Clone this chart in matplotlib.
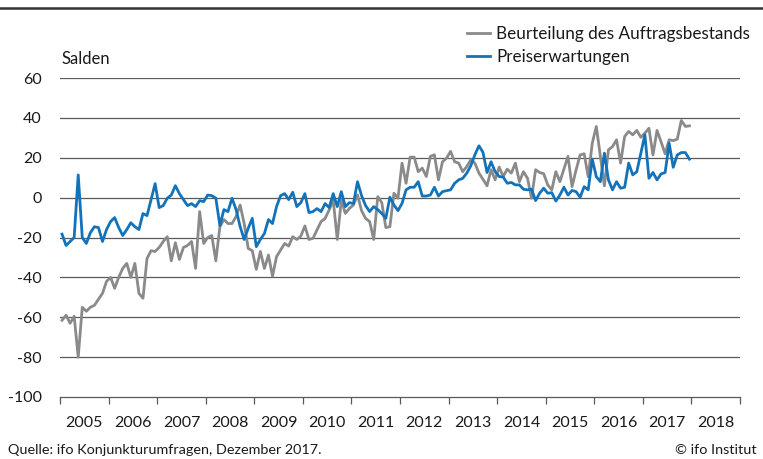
import matplotlib
matplotlib.use("Agg")
import matplotlib.pyplot as plt
from matplotlib.lines import Line2D
import numpy as np

plt.rcParams['font.family'] = ['Lato', 'DejaVu Sans']

start_year = 2005
year_labels = [str(y) for y in range(2005, 2019)]
y_ticks = [60, 40, 20, 0, -20, -40, -60, -80, -100]

series_names = ["Beurteilung des Auftragsbestands", "Preiserwartungen"]

# Monthly balances, Jan 2005 - Dec 2017
auftragsbestand = [
    -61.5, -59, -63, -59.5, -80, -55, -57, -55, -54, -51, -48, -42,
    -40, -45.5, -40, -35.5, -33, -40, -33, -48, -50.5, -30.5, -26.6, -27,
    -25, -22, -19.6, -31.7, -22.6, -31, -25, -24, -22, -35.5, -7, -23,
    -20, -19, -31.7, -14.6, -11, -13, -13, -9.5, -3.7, -13, -25.5, -26.6,
    -36, -27, -35.5, -28.8, -39.4, -29.6, -26.3, -23, -24.3, -19.6, -21, -19.3,
    -14.2, -21, -20.4, -16.2, -12, -10.4, -6.2, -1.2, -21, -1.2, -7.9, -5.4,
    -3.7, 1.3, -6.5, -10.4, -12, -21, 0.5, -2.5, -15, -14.6, 2.2, -0.3,
    17.3, 7.2, 20.3, 20.3, 13, 14.8, 10.6, 20.7, 21.5, 8.9, 18, 19.8,
    23.2, 18, 17.3, 13, 15.6, 19, 17.3, 12.3, 9.2, 5.9, 14, 8.9,
    15.3, 10.6, 14.3, 12.3, 17.3, 8, 13, 9.7, -0.3, 14, 12.6, 12,
    6.4, 3.9, 13, 8, 14.3, 20.7, 5.5, 13.9, 21.4, 22, 10.5, 27.3,
    35.7, 20.6, 5.9, 24, 25.6, 29, 17.3, 30.7, 33.2, 31.5, 33.7, 30.3,
    32.3, 34.8, 21.4, 33.7, 28, 22, 29, 28.6, 29.3, 38.7, 35.7, 36,
]

preiserwartungen = [
    -18.3, -24, -22, -20, 11.4, -20, -23, -17.6, -14.6, -15, -22, -16,
    -12, -10, -15, -19, -16, -12.6, -14.6, -16, -8, -9, -1, 7,
    -5, -4, -0.3, 1.3, 6, 2, -1, -4, -3, -4.5, -1.5, -2,
    1.3, 1, -0.3, -14, -6, -7, -0.3, -6, -14.5, -21, -15.4, -10.4,
    -24.6, -21, -18, -11, -13, -4.5, 1, 2, -1, 2.7, -4.5, -2.5,
    2, -7.5, -7, -5.5, -7, -3, -5, 2, -4.5, 3, -4.5, -2.5,
    -3, 8, 1, -4, -7, -4.5, -6, -8, -10.4, 0.2, -3.7, -6.5,
    -2.9, 3.9, 5.2, 5.2, 8, 0.8, 0.8, 1.3, 5.2, 0.8, 3, 3.5,
    3.9, 7.2, 8.9, 9.7, 12.3, 16, 21.5, 26, 22.7, 12.6, 18, 13,
    10.6, 10.3, 7.2, 7.6, 6.4, 6.4, 4.2, 3.9, 4.2, -1.5, 2.2, 4.7,
    2.2, 2.5, -1.7, 1.3, 5.2, 1.3, 3.6, 3, 0.2, 5.5, 3.9, 19.3,
    10.5, 8, 22.3, 8.9, 3.9, 8, 4.7, 5.2, 17.3, 11.4, 13, 22.3,
    31.5, 9.7, 12.6, 8.9, 11.9, 12.6, 27.3, 15.2, 21.4, 22.6, 22.6, 19.3,
]

source_text = "Quelle: ifo Konjunkturumfragen, Dezember 2017."
credit_text = "© ifo Institut"
ylabel_text = "Salden"

gray = "#8a8a8a"
blue = "#1273bb"
grid_col = "#5a5a5a"
text_col = "#1a1a1a"

n = len(auftragsbestand)
x = start_year + (np.arange(n) + 0.5) / 12.0

fig = plt.figure(figsize=(7.63, 4.59), dpi=100)
ax = fig.add_axes([60 / 763, 1 - 397 / 459, 680 / 763, 319 / 459])

for v in y_ticks[:-1]:
    ax.axhline(v, color=grid_col, lw=0.9, zorder=1)

l1, = ax.plot(x, auftragsbestand, color=gray, lw=2.0, zorder=3, solid_joinstyle='round')
l2, = ax.plot(x, preiserwartungen, color=blue, lw=2.0, zorder=4, solid_joinstyle='round')

ax.set_xlim(2005, 2019)
ax.set_ylim(-100, 60)

for s in ['top', 'right', 'left']:
    ax.spines[s].set_visible(False)
ax.spines['bottom'].set_color(grid_col)
ax.spines['bottom'].set_linewidth(0.9)

ax.set_yticks(y_ticks)
ax.set_yticklabels([str(v) for v in y_ticks])
ax.tick_params(axis='y', length=0, pad=13, labelsize=11.5, labelcolor=text_col)

ax.set_xticks(range(2005, 2020))
ax.set_xticklabels([])
ax.tick_params(axis='x', which='major', direction='out', length=5, width=0.9, color=grid_col)
ax.set_xticks([y + 0.5 for y in range(2005, 2019)], minor=True)
ax.set_xticklabels(year_labels, minor=True)
ax.tick_params(axis='x', which='minor', length=0, pad=14, labelsize=11.5, labelcolor=text_col)

fig.text(62 / 763, 1 - 59 / 459, ylabel_text, fontsize=12, color=text_col, va='center', ha='left')

leg = fig.legend([l1, l2], series_names, loc='upper left',
                 bbox_to_anchor=(467 / 763, 1 - 26 / 459), frameon=False,
                 handlelength=1.35, handletextpad=0.35, labelspacing=0.42,
                 fontsize=12.3, borderaxespad=0, borderpad=0)
for t in leg.get_texts():
    t.set_color(text_col)

fig.text(8 / 763, 1 - 450 / 459, source_text, fontsize=10.4, color=text_col, va='center', ha='left')
fig.text(757 / 763, 1 - 450 / 459, credit_text, fontsize=10.4, color=text_col, va='center', ha='right')

fig.add_artist(Line2D([0, 1], [1 - 8 / 459, 1 - 8 / 459], color="#333333", lw=1.8,
                      transform=fig.transFigure))

fig.savefig("out.png", dpi=100)
